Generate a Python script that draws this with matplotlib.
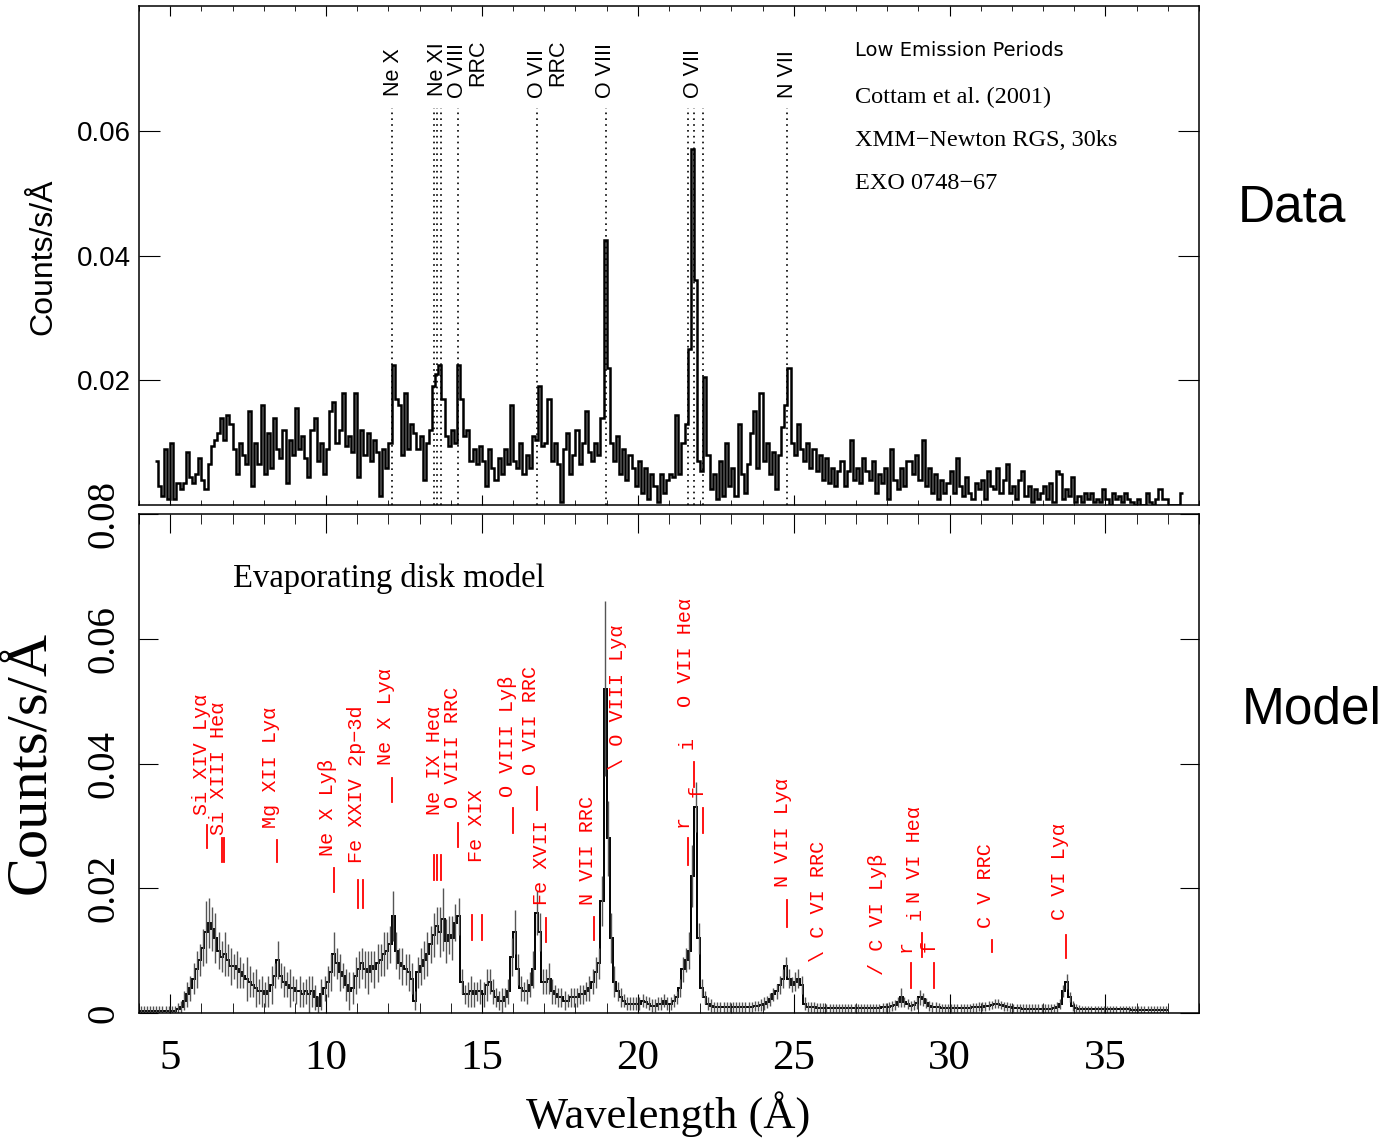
import numpy as np
import matplotlib
matplotlib.use("Agg")
import matplotlib.pyplot as plt

W, H = 1398, 1141

# ---- top panel: RGS data, counts/s/A in units of 1e-3, 0.1 A bins from 4.5 A
data_start = 4.5
data_vals = [
    7, 3, 1.5, 9, 1,
    10, 1, 3.5, 2.5, 3.5, 8.5, 4.5, 3.5, 5, 7.5,
    4, 2.5, 6.5, 9.5, 10.5, 11.5, 14, 10.5, 14.5, 13,
    9, 5, 10, 8, 6.5, 15, 3, 10, 6.5, 16,
    5, 11.5, 6, 14, 9, 7.5, 12, 3.5, 10.5, 8,
    15.5, 9, 11, 7.5, 4.5, 12, 14, 7, 10, 5,
    9, 15, 16.5, 10, 12, 18, 9.5, 11, 8.5, 18,
    4.5, 12, 8, 11.5, 7, 10.5, 8.5, 1.5, 9, 6,
    10, 22.5, 17, 16, 8, 18, 9, 13, 11.5, 9,
    11, 4, 10, 12, 19, 21, 22.5, 17, 11, 9.5,
    12, 10, 22.5, 17, 11, 12, 7, 9, 6.5, 9.5,
    7, 3, 9, 6, 4, 7.5, 5, 9, 6.5, 16,
    7, 6, 10, 5, 8, 6, 11, 10.5, 19, 9.5,
    10, 17, 7, 10, 6.5, 0.5, 9, 11.5, 5, 8,
    12, 6.5, 10, 15, 8.5, 7, 10, 8, 14, 42.5,
    22, 10, 7, 11, 5, 9, 4, 8, 6, 3,
    7, 2, 6, 1, 5, 3, 0.5, 5, 2, 4,
    5, 4.5, 14.5, 5, 10, 13, 25, 57, 36, 7,
    5.5, 20.5, 8, 2.5, 5, 1, 7, 1.5, 10, 3,
    6, 1.5, 13, 5, 2, 6.5, 11.5, 15, 6, 18,
    7, 10, 5, 8.5, 2.5, 8, 12.5, 16, 22, 10,
    8, 13, 9, 7, 10, 6, 9, 5.5, 8, 4,
    7.5, 3.5, 6, 3, 5.5, 7, 3, 5.5, 10.5, 4,
    6, 3.5, 7.5, 5.5, 4, 7, 2, 5, 3.5, 6,
    1, 9, 4, 2.5, 6, 3, 7, 7, 5, 8,
    4, 10.5, 3, 6, 2, 5, 1, 4, 2, 3.5,
    5.5, 2, 7.5, 3, 1.5, 4.5, 2, 1, 3.5, 2.5,
    4, 1, 5.5, 3, 2.5, 6, 2, 4, 6.5, 2,
    3, 1, 4, 5.5, 1.5, 3, 0.5, 2.5, 1, 2,
    3, 1, 3.5, 0.5, 5.5, 5, 1, 2.5, 1.5, 4.5,
    0.5, 1.5, 0.5, 2, 1, 2, 0.5, 1, 0.5, 2.5,
    1, 0, 2, 1, 1.5, 0.5, 2, 1, 0.5, 0,
    1, 0, 0, 2, 0.5, 0, 1, 2.5, 1, 1,
    0, 0, 0, 0, 2,
]

# ---- bottom panel: evaporating disk model (1e-3), 0.1 A bins from 4.0 A
model_start = 4.0
model_vals = [
    .4, .4, .4, .4, .4, .4, .4, .4, .4, .4,
    .4, .4, .6, 1, 2, 3, 4, 5.5, 7, 8.5,
    10.5, 13, 14.5, 13.5, 12, 10, 9, 9.5, 8.5, 7.5,
    7.5, 7, 6.5, 6, 5.5, 5, 4.5, 4, 3.5, 3.5,
    3, 3.5, 4.5, 6, 8.5, 6, 5, 4.5, 4, 4,
    3.5, 3.5, 3, 3.5, 3, 3.5, 2.5, 1.2, 3, 4,
    5, 6.5, 9.5, 8, 6.5, 6, 4.5, 3.5, 4, 6,
    7, 8, 7, 6.5, 7.5, 7, 8, 8.5, 9.5, 10,
    11, 15.5, 10, 8, 7.5, 7, 6.5, 5.5, 2, 6.5,
    7.5, 8.5, 9.5, 11, 12.5, 14, 13, 15, 11.5, 12.5,
    12, 14.5, 15.5, 5, 3, 3, 3.5, 3, 3.5, 3.5,
    3, 4.5, 5, 3.5, 2.5, 2, 2, 2.5, 3.5, 9,
    13, 7, 4, 3.5, 3.5, 4.5, 7, 16, 13, 5,
    5, 5.5, 3.5, 3, 2.5, 2.5, 2, 2, 2.5, 2.5,
    2.5, 3, 3, 3.5, 4, 5, 6.5, 8, 18, 52,
    28, 12, 5, 3.5, 2.5, 2, 1.5, 1.5, 1.5, 1.5,
    1.5, 2, 1.8, 1.5, 1.2, 1.2, 1.5, 1.5, 2, 1.5,
    1.5, 2, 2.5, 4, 7, 8.5, 10, 22, 33, 12,
    4, 2.5, 1.5, 1.2, 1, 1, 1, 1, 1, 1,
    1, 1, 1, 1, 1, 1, 1, 1.2, 1.2, 1.3,
    1.5, 1.8, 2.2, 3, 3.5, 4.5, 5.5, 7.5, 5.5, 4.5,
    5, 5.5, 4.5, 1.5, 1, .9, .9, .8, .8, .8,
    .8, .8, .8, .8, .8, .8, .8, .8, .8, .8,
    .8, .8, .8, .8, .8, .8, .8, .8, .9, .9,
    1, 1.1, 1.3, 1.8, 2.5, 1.8, 1.4, 1.2, 1.3, 1.6,
    2.5, 2.2, 1.6, 1.2, 1, .9, .9, .8, .8, .8,
    .8, .8, .8, .8, .8, .8, .8, .9, .9, 1,
    1, 1.1, 1.2, 1.3, 1.5, 1.5, 1.3, 1.1, 1, .9,
    .8, .8, .8, .7, .7, .7, .7, .7, .7, .7,
    .7, .7, .7, .8, 1, 1.5, 3.5, 5, 2.5, 1.2,
    .8, .7, .6, .6, .6, .6, .6, .6, .6, .6,
    .6, .6, .6, .6, .6, .6, .6, .6, .5, .5,
    .5, .5, .5, .5, .5, .5, .5, .5, .5, .5,
]
model_err = [
    .8, .8, .8, .8, .8, .8, .8, .8, .8, .8,
    .8, .8, 1, 1, 1.5, 2, 2, 2.5, 3, 2.5,
    3, 5, 4, 3.5, 4, 3, 2.5, 3.5, 2.5, 3,
    2, 3, 2.5, 2, 3.5, 2.5, 2, 3, 2, 2.5,
    2, 2.5, 3, 2, 3, 2, 2.5, 2, 3, 2,
    2, 2.5, 2, 2, 3, 2.5, 2, 1.5, 2.5, 2,
    2.5, 3, 3.5, 2.5, 3, 2, 2.5, 3, 2.5, 3,
    3, 2.5, 3, 3.5, 2.5, 3, 3, 2.5, 3.5, 3,
    3, 4, 3, 2.5, 3, 2.5, 3, 2.5, 1.5, 2.5,
    3, 3, 3.5, 3, 3.5, 3, 4, 5, 3.5, 3,
    3.5, 3, 3, 2, 1.5, 2, 2.5, 2, 1.5, 2,
    2, 2.5, 2, 2, 1.5, 1.5, 2, 1.5, 2, 3,
    3.5, 2.5, 2, 1.5, 2, 2, 3, 3.5, 3, 2,
    2, 2.5, 2, 1.5, 1.5, 1.5, 1.5, 1, 1.5, 1.5,
    1.5, 1.5, 1.5, 1.5, 2, 2, 2.5, 2.5, 4, 14,
    6, 4, 2.5, 1.5, 1.5, 1, 1, 1, 1, 1,
    1, 1, 1, 1, 1, 1, 1, 1, 1, 1,
    1, 1, 1, 1.5, 2, 2, 3, 5, 4, 2.5,
    1.5, 1, 1, 1, .8, .8, .8, .8, .8, .8,
    .8, .8, .8, .8, .8, .8, .8, .8, .8, 1,
    1, 1, 1, 1, 1.2, 1.5, 1.5, 1.5, 1.5, 1.2,
    1.5, 1.5, 1.5, 1, .8, .8, .8, .8, .8, .8,
    .7, .7, .7, .7, .7, .7, .7, .7, .7, .7,
    .7, .7, .7, .7, .7, .7, .7, .7, .7, .7,
    .8, .8, .8, .8, 1.5, .8, .8, .8, .8, 1,
    1.2, 1, .8, .8, .8, .8, .7, .7, .7, .7,
    .7, .7, .7, .7, .7, .7, .7, .7, .7, .7,
    .7, .7, .7, .7, .7, .7, .7, .7, .7, .7,
    .7, .7, .7, .7, .7, .7, .7, .7, .7, .7,
    .7, .7, .7, .7, .8, .8, 1, 1.2, .8, .8,
    .6, .6, .6, .6, .6, .6, .6, .6, .6, .6,
    .6, .6, .6, .6, .6, .6, .6, .6, .6, .6,
    .6, .6, .6, .6, .6, .6, .6, .6, .6, .6,
]

# ---- line identifications
top_lines = [12.13, 13.45, 13.55, 13.70, 14.23, 16.78, 18.97, 21.60, 21.80, 22.10, 24.78]
top_labels = [("Ne X", 12.15, 0.0656), ("Ne XI", 13.57, 0.0656), ("O VIII", 14.21, 0.0653),
              ("RRC", 14.85, 0.0672), ("O VII", 16.77, 0.0653), ("RRC", 17.42, 0.0672),
              ("O VIII", 18.96, 0.0653), ("O VII", 21.78, 0.0653), ("N VII", 24.79, 0.0653)]
info_lines = ["Cottam et al. (2001)", "XMM\u2212Newton RGS, 30ks", "EXO 0748\u221267"]

model_labels = [
    ("Si XIV Ly\u03b1", 5.99, 0.0317), ("Si XIII He\u03b1", 6.54, 0.0285),
    ("Mg XII Ly\u03b1", 8.21, 0.0296), ("Ne X Ly\u03b2", 10.04, 0.0251),
    ("Fe XXIV 2p\u22123d", 10.97, 0.0240), ("Ne X Ly\u03b1", 11.90, 0.0397),
    ("Ne IX He\u03b1", 13.47, 0.0317), ("O VIII RRC", 14.05, 0.0328),
    ("Fe XIX", 14.82, 0.0242), ("O VIII Ly\u03b2", 15.81, 0.0346),
    ("O VII RRC", 16.55, 0.0381), ("Fe XVII", 16.90, 0.0173),
    ("N VII RRC", 18.38, 0.0173), ("\\ O VIII Ly\u03b1", 19.34, 0.0389),
    ("O VII He\u03b1", 21.52, 0.0490), ("i", 21.59, 0.0424), ("r", 21.43, 0.0298),
    ("f", 21.91, 0.0346), ("N VII Ly\u03b1", 24.63, 0.0202),
    ("\\ C VI RRC", 25.79, 0.0082), ("/ C VI Ly\u03b2", 27.68, 0.0061),
    ("r", 28.58, 0.0098), ("i", 28.90, 0.0149), ("N VI He\u03b1", 28.87, 0.0176),
    ("f", 29.34, 0.0098), ("C V RRC", 31.15, 0.0136), ("C VI Ly\u03b1", 33.52, 0.0149),
]
model_ticks = [
    (6.18, 0.0264, 0.0301), (6.65, 0.0242, 0.0280), (6.74, 0.0242, 0.0280),
    (8.42, 0.0242, 0.0277), (10.24, 0.0194, 0.0232), (11.03, 0.0168, 0.0213),
    (11.17, 0.0168, 0.0213), (12.13, 0.0338, 0.0376), (13.45, 0.0213, 0.0253),
    (13.55, 0.0213, 0.0253), (13.70, 0.0213, 0.0253), (14.23, 0.0266, 0.0304),
    (14.69, 0.0117, 0.0157), (15.01, 0.0117, 0.0157), (16.00, 0.0288, 0.0328),
    (16.78, 0.0325, 0.0362), (17.07, 0.0114, 0.0152), (18.59, 0.0117, 0.0154),
    (21.62, 0.0237, 0.0280), (21.81, 0.0362, 0.0402), (22.10, 0.0288, 0.0328),
    (24.78, 0.0138, 0.0181), (28.77, 0.0040, 0.0080), (29.10, 0.0090, 0.0128),
    (29.50, 0.0040, 0.0080), (31.35, 0.0098, 0.0117), (33.74, 0.0088, 0.0125),
]

SANS = "Liberation Sans"
SERIF = "Liberation Serif"
MONO = "Liberation Mono"
plt.rcParams["font.family"] = SANS

fig = plt.figure(figsize=(W / 100, H / 100), dpi=100)
ax1 = fig.add_axes([139 / W, 1 - 505 / H, 1060 / W, 499 / H])
ax2 = fig.add_axes([139 / W, 1 - 1013 / H, 1060 / W, 499 / H])

# top: data histogram
dv = np.array(data_vals) * 1e-3
d_edges = data_start + 0.1 * np.arange(len(dv) + 1)
ax1.stairs(dv, d_edges, color="black", lw=1.8, baseline=None)
for x in top_lines:
    ax1.plot([x, x], [0, 0.0637], color="black", ls=(0, (1, 2.5)), lw=1.2)
for txt, x, y in top_labels:
    ax1.text(x, y, txt, rotation=90, ha="center", va="bottom", fontsize=15.5, family=SANS)
ax1.text(26.98, 0.0728, "Low Emission Periods", fontsize=14, family="DejaVu Sans", va="center")
for i, txt in enumerate(info_lines):
    ax1.text(26.98, 0.0654 - i * 0.0069, txt, fontsize=17.5, family=SERIF, va="center")

ax1.set_xlim(4, 38)
ax1.set_ylim(0, 0.08)
ax1.set_yticks([0.02, 0.04, 0.06])
ax1.set_yticklabels(["0.02", "0.04", "0.06"], fontsize=20, family=SANS)
ax1.set_xticks(np.arange(5, 38, 5))
ax1.set_xticks(np.arange(4, 39, 1), minor=True)
ax1.set_xticklabels([])
ax1.tick_params(axis="x", which="major", direction="in", length=7, top=True)
ax1.tick_params(axis="x", which="minor", direction="in", length=3.5, top=True)
ax1.tick_params(axis="y", which="major", direction="in", length=15, right=True, pad=6)

# bottom: model with error bars
mv = np.array(model_vals) * 1e-3
me = np.array(model_err) * 1e-3
m_edges = model_start + 0.1 * np.arange(len(mv) + 1)
m_cent = m_edges[:-1] + 0.05
ax2.errorbar(m_cent, mv, yerr=me, fmt="none", ecolor="#555555", elinewidth=1.0)
ax2.stairs(mv, m_edges, color="black", lw=1.4, baseline=None)
for txt, x, y in model_labels:
    ax2.text(x, y, txt, rotation=90, ha="center", va="bottom", fontsize=14.5,
             family=MONO, color="red")
for x, y0, y1 in model_ticks:
    ax2.plot([x, x], [y0, y1], color="red", lw=1.3)
ax2.text(7.02, 0.0696, "Evaporating disk model", fontsize=23.5, family=SERIF, va="center")

ax2.set_xlim(4, 38)
ax2.set_ylim(0, 0.08)
ax2.set_xticks(np.arange(5, 38, 5))
ax2.set_xticklabels([str(v) for v in range(5, 38, 5)], fontsize=31, family=SERIF)
ax2.set_xticks(np.arange(4, 39, 1), minor=True)
ax2.set_yticks([0, 0.02, 0.04, 0.06, 0.08])
ax2.set_yticklabels(["0", "0.02", "0.04", "0.06", "0.08"], fontsize=28, family=SERIF,
                    rotation=90, va="center")
ax2.tick_params(axis="x", which="major", direction="in", length=14, top=True, pad=19)
ax2.tick_params(axis="x", which="minor", direction="in", length=7, top=True)
ax2.tick_params(axis="y", which="major", direction="in", length=14, right=True, pad=12)

for ax in (ax1, ax2):
    for s in ax.spines.values():
        s.set_linewidth(1.1)

fig.text(43 / W, 1 - 257 / H, "Counts/s/\u00c5", rotation=90, ha="center", va="center",
         fontsize=23, family=SANS)
fig.text(30 / W, 1 - 762 / H, "Counts/s/\u00c5", rotation=90, ha="center", va="center",
         fontsize=42, family=SERIF)
fig.text(668 / W, 1 - 1115 / H, "Wavelength (\u00c5)", ha="center", va="center",
         fontsize=32, family=SERIF)
fig.text(1292 / W, 1 - 208 / H, "Data", ha="center", va="center", fontsize=37, family=SANS)
fig.text(1312 / W, 1 - 710 / H, "Model", ha="center", va="center", fontsize=37, family=SANS)

fig.savefig("out.png", dpi=100)
